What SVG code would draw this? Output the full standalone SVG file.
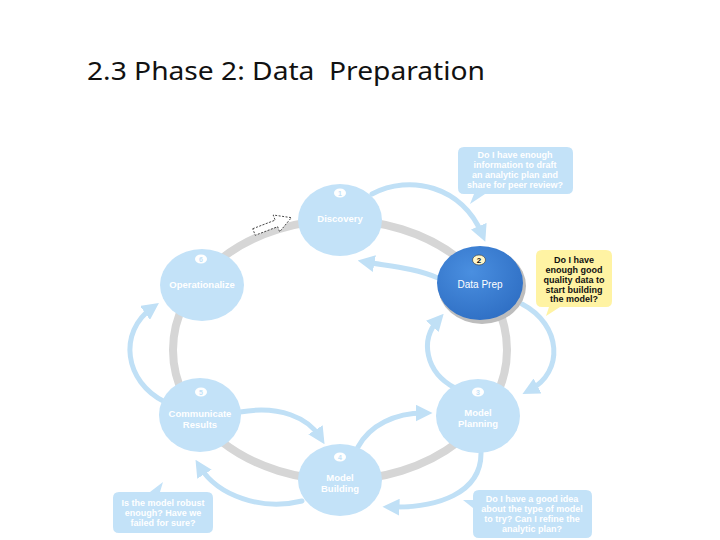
<svg xmlns="http://www.w3.org/2000/svg" width="720" height="540" viewBox="0 0 720 540">
<defs>
<style>
.title{font-family:"Noto Sans","Open Sans",sans-serif;font-size:26px;fill:#111}
.lbl{font-family:"Liberation Sans",Arial,sans-serif;font-weight:bold;font-size:9.5px;fill:#fff;text-anchor:middle}
.bub{font-family:"Liberation Sans",Arial,sans-serif;font-weight:bold;font-size:9px;fill:#fff;text-anchor:middle}
.ybub{font-family:"Liberation Sans",Arial,sans-serif;font-weight:bold;font-size:9px;fill:#111;text-anchor:middle}
.node{fill:#c3e2f8}
.badge{fill:#fff}
.bnum{font-family:"Liberation Sans",Arial,sans-serif;font-weight:bold;font-size:7px;fill:#c3e2f8;text-anchor:middle}
.arc{fill:none;stroke:#c0e0f6;stroke-width:5;stroke-linecap:round}
.ring{fill:none;stroke:#d6d6d6;stroke-width:8}
.bubfill{fill:#c3e2f8}
</style>
<marker id="ah" viewBox="0 0 10 10" refX="5" refY="5" markerWidth="3.4" markerHeight="3.4" orient="auto" markerUnits="strokeWidth">
<path d="M0,0 L10,5 L0,10 z" fill="#c0e0f6"/>
</marker>
<radialGradient id="dp" cx="0.4" cy="0.35" r="0.7">
<stop offset="0" stop-color="#4a8fe0"/>
<stop offset="1" stop-color="#2f6fc4"/>
</radialGradient>
</defs>
<rect width="720" height="540" fill="#fff"/>
<text class="title" x="87" y="80" textLength="398" lengthAdjust="spacingAndGlyphs" xml:space="preserve">2.3 Phase 2: Data  Preparation</text>

<g id="connectors">
<ellipse class="ring" cx="340" cy="350" rx="167" ry="130"/>
<path class="arc" d="M372 194 C410 174 462 186 482 234" marker-end="url(#ah)"/>
<path class="arc" d="M438 278 C415 268 388 266 366 262" marker-end="url(#ah)"/>
<path class="arc" d="M522 304 C562 325 564 372 530 390" marker-end="url(#ah)"/>
<path class="arc" d="M455 388 C425 372 420 340 438 320" marker-end="url(#ah)"/>
<path class="arc" d="M481 452 C482 494 436 508 391 507" marker-end="url(#ah)"/>
<path class="arc" d="M358 447 C370 425 395 413 424 413" marker-end="url(#ah)"/>
<path class="arc" d="M240 412 C280 405 308 418 320 437" marker-end="url(#ah)"/>
<path class="arc" d="M302 501 C262 511 218 496 200 467" marker-end="url(#ah)"/>
<path class="arc" d="M165 402 C124 382 118 332 152 308" marker-end="url(#ah)"/>
<path d="M262 229 L282 222" stroke="#c8c8c8" stroke-width="8" fill="none"/>
<polygon points="0,-3.5 24,-3.5 24,-9 40,0 24,9 24,3.5 0,3.5" transform="translate(254,232) rotate(-21)" fill="#fff" stroke="#333" stroke-width="0.8" stroke-dasharray="2,1.5"/>
</g>

<g id="n1">
<ellipse class="node" cx="340" cy="220" rx="42" ry="36"/>
<ellipse class="badge" cx="340" cy="193" rx="6" ry="4.5"/>
<text class="bnum" x="340" y="195.5">1</text>
<text class="lbl" x="340" y="222">Discovery</text>
</g>
<g id="n2">
<ellipse cx="482" cy="286" rx="44" ry="38" fill="#bdbdbd"/>
<ellipse cx="480" cy="283" rx="43" ry="37" fill="url(#dp)"/>
<ellipse cx="479" cy="260" rx="6.5" ry="5" fill="#fff6c8" stroke="#333" stroke-width="0.6"/>
<text x="479" y="263" font-family="Liberation Sans, Arial, sans-serif" font-weight="bold" font-size="8px" fill="#111" text-anchor="middle">2</text>
<text class="lbl" x="480" y="288" style="font-weight:normal;font-size:10px">Data Prep</text>
</g>
<g id="n6">
<ellipse class="node" cx="202" cy="285" rx="42" ry="36"/>
<ellipse class="badge" cx="201" cy="259" rx="6" ry="4.5"/>
<text class="bnum" x="201" y="261.5">6</text>
<text class="lbl" x="202" y="288">Operationalize</text>
</g>
<g id="n5">
<ellipse class="node" cx="200" cy="415" rx="41" ry="37"/>
<ellipse class="badge" cx="201" cy="392" rx="6" ry="4.5"/>
<text class="bnum" x="201" y="394.5">5</text>
<text class="lbl" x="200" y="417">Communicate</text>
<text class="lbl" x="200" y="428">Results</text>
</g>
<g id="n3">
<ellipse class="node" cx="478" cy="416" rx="42" ry="37"/>
<ellipse class="badge" cx="478" cy="392" rx="6" ry="4.5"/>
<text class="bnum" x="478" y="394.5">3</text>
<text class="lbl" x="478" y="416">Model</text>
<text class="lbl" x="478" y="427">Planning</text>
</g>
<g id="n4">
<ellipse class="node" cx="340" cy="480" rx="42" ry="36"/>
<ellipse class="badge" cx="340" cy="457" rx="6" ry="4.5"/>
<text class="bnum" x="340" y="459.5">4</text>
<text class="lbl" x="340" y="481">Model</text>
<text class="lbl" x="340" y="492">Building</text>
</g>

<g id="b1">
<path class="bubfill" d="M464 147 H567 Q573 147 573 153 V188 Q573 194 567 194 H485 L470 204 L474 194 H464 Q458 194 458 188 V153 Q458 147 464 147 Z"/>
<text class="bub" x="515" y="158">Do I have enough</text>
<text class="bub" x="515" y="168">information to draft</text>
<text class="bub" x="515" y="178">an analytic plan and</text>
<text class="bub" x="515" y="188">share for peer review?</text>
</g>
<g id="b2">
<path d="M542 250 H606 Q612 250 612 256 V301 Q612 307 606 307 H560 L546 316 L549 307 H542 Q536 307 536 301 V256 Q536 250 542 250 Z" fill="#fff3a3"/>
<text class="ybub" x="574" y="263">Do I have</text>
<text class="ybub" x="574" y="273">enough good</text>
<text class="ybub" x="574" y="283">quality data to</text>
<text class="ybub" x="574" y="293">start building</text>
<text class="ybub" x="574" y="302">the model?</text>
</g>
<g id="b3">
<path class="bubfill" d="M119 492 H150 L163 482 L160 492 H207 Q213 492 213 498 V527 Q213 533 207 533 H119 Q113 533 113 527 V498 Q113 492 119 492 Z"/>
<text class="bub" x="163" y="506">Is the model robust</text>
<text class="bub" x="163" y="516">enough? Have we</text>
<text class="bub" x="163" y="526">failed for sure?</text>
</g>
<g id="b4">
<path class="bubfill" d="M479 490 H586 Q592 490 592 496 V532 Q592 538 586 538 H479 Q473 538 473 532 V508 L463 500 L473 500 V496 Q473 490 479 490 Z"/>
<text class="bub" x="532" y="502">Do I have a good idea</text>
<text class="bub" x="532" y="512">about the type of model</text>
<text class="bub" x="532" y="522">to try? Can I refine the</text>
<text class="bub" x="532" y="532">analytic plan?</text>
</g>
</svg>
